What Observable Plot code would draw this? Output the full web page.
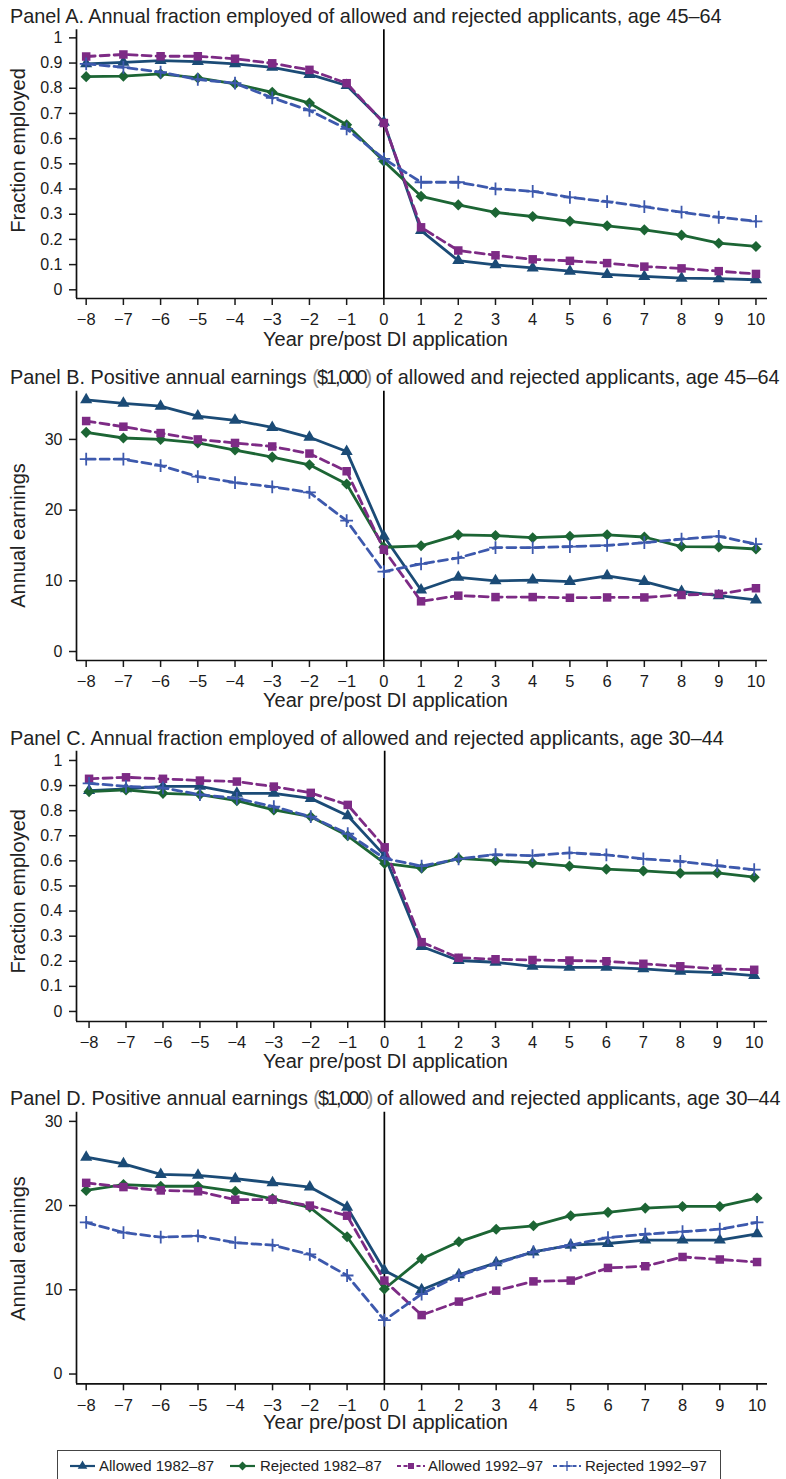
<!DOCTYPE html>
<html><head><meta charset="utf-8">
<script src="https://cdn.jsdelivr.net/npm/d3@7"></script>
<script src="https://cdn.jsdelivr.net/npm/@observablehq/plot@0.6"></script>
<style>
body{margin:0;background:#fff;font-family:"Liberation Sans",Arial,sans-serif;}
#root{position:relative;width:786px;height:1479px;overflow:hidden;background:#fff;}
#root svg{position:absolute;left:0;}
.ptitle{position:absolute;left:10px;font-size:19.85px;line-height:20px;color:#222;white-space:nowrap;}
.paren{color:#8a8a8a;}
.money{letter-spacing:-2px;}
</style></head><body><div id="root"></div><script>
// ---------- data ----------
const years = [-8,-7,-6,-5,-4,-3,-2,-1,0,1,2,3,4,5,6,7,8,9,10];
const seriesNames = ["Allowed 1982–87","Rejected 1982–87","Allowed 1992–97","Rejected 1992–97"];

const A_allowed82  = [0.897,0.903,0.910,0.906,0.897,0.883,0.855,0.811,0.665,0.235,0.116,0.099,0.087,0.074,0.061,0.053,0.046,0.044,0.040];
const A_rejected82 = [0.846,0.848,0.857,0.841,0.817,0.784,0.741,0.655,0.510,0.371,0.337,0.307,0.291,0.272,0.254,0.238,0.217,0.185,0.172];
const A_allowed92  = [0.926,0.934,0.927,0.927,0.917,0.899,0.873,0.820,0.662,0.248,0.156,0.137,0.121,0.115,0.106,0.092,0.085,0.074,0.063];
const A_rejected92 = [0.897,0.883,0.864,0.835,0.820,0.762,0.712,0.639,0.520,0.427,0.427,0.401,0.391,0.367,0.350,0.330,0.308,0.288,0.272];

const B_allowed82  = [35.6,35.1,34.7,33.3,32.7,31.7,30.3,28.3,16.3,8.7,10.5,10.0,10.1,9.9,10.7,9.9,8.5,7.9,7.3];
const B_rejected82 = [31.0,30.2,30.0,29.5,28.5,27.5,26.4,23.7,14.75,14.95,16.5,16.4,16.1,16.3,16.5,16.2,14.85,14.8,14.5];
const B_allowed92  = [32.6,31.8,30.9,30.0,29.5,29.0,28.0,25.5,14.4,7.1,7.9,7.7,7.7,7.6,7.65,7.65,8.0,8.15,8.95];
const B_rejected92 = [27.2,27.2,26.3,24.75,23.9,23.3,22.5,18.5,11.3,12.4,13.25,14.7,14.7,14.85,15.0,15.4,15.9,16.3,15.2];

const C_allowed82  = [0.880,0.887,0.897,0.897,0.869,0.869,0.849,0.780,0.621,0.259,0.203,0.196,0.180,0.176,0.176,0.170,0.160,0.155,0.143];
const C_rejected82 = [0.876,0.883,0.869,0.864,0.840,0.803,0.776,0.700,0.590,0.571,0.610,0.601,0.592,0.579,0.567,0.560,0.551,0.552,0.535];
const C_allowed92  = [0.927,0.933,0.927,0.920,0.916,0.896,0.871,0.823,0.654,0.276,0.214,0.208,0.205,0.203,0.200,0.190,0.180,0.170,0.166];
const C_rejected92 = [0.909,0.897,0.891,0.864,0.849,0.816,0.776,0.708,0.610,0.579,0.608,0.625,0.621,0.632,0.624,0.608,0.598,0.581,0.565];

const D_allowed82  = [25.75,24.96,23.7,23.6,23.2,22.7,22.2,19.8,12.3,10.0,11.8,13.2,14.5,15.3,15.5,15.9,15.9,15.9,16.65];
const D_rejected82 = [21.8,22.5,22.3,22.3,21.7,20.8,19.8,16.3,10.1,13.7,15.7,17.2,17.6,18.8,19.2,19.7,19.9,19.9,20.9];
const D_allowed92  = [22.7,22.2,21.8,21.7,20.7,20.7,20.0,18.8,11.1,7.0,8.6,9.9,11.0,11.1,12.6,12.8,13.9,13.6,13.3];
const D_rejected92 = [18.0,16.8,16.25,16.4,15.6,15.3,14.2,11.7,6.4,9.5,11.7,13.1,14.5,15.3,16.2,16.6,16.9,17.2,18.0];

const fracTicks = [0,0.1,0.2,0.3,0.4,0.5,0.6,0.7,0.8,0.9,1];
const earnTicks = [0,10,20,30];
const xTitle = "Year pre/post DI application";

// ---------- styles ----------
const FONT = "'Liberation Sans', Arial, Helvetica, sans-serif";
const colors = ["#1b4b76","#1c6534","#7d2b85","#3d59ad"];
const dashes = [null,null,"9,5","9,5"];
const symbols = ["triangle","diamond2","square","plus"];
const radii = [4.5,5,4.8,4.2];

const root = document.getElementById("root");

function fmtX(d){ return d < 0 ? "\u2212" + (-d) : String(d); }
function fmtFrac(d){ return String(+d.toFixed(1)); }

function panel(cfg){
  const marks = [
    Plot.axisX({ticks: years, tickFormat: fmtX, tickSize: 7, tickPadding: 8, strokeWidth: 1.5, fontSize: 16.5, label: null}),
    Plot.axisY({ticks: cfg.yt, tickFormat: cfg.fmtY, tickSize: 7, tickPadding: 7, strokeWidth: 1.5, fontSize: 16, label: null}),
    Plot.ruleX([cfg.xd[0]], {stroke: "#111", strokeWidth: 1.7}),
    Plot.ruleY([cfg.yd[0]], {stroke: "#111", strokeWidth: 1.7}),
    Plot.ruleX([0], {stroke: "#000", strokeWidth: 1.7})
  ];
  cfg.series.forEach((vals, i) => {
    const rows = vals.map((v, j) => ({year: years[j], value: v}));
    marks.push(Plot.line(rows, {x: "year", y: "value", stroke: colors[i], strokeWidth: 2.8, strokeDasharray: dashes[i]}));
    marks.push(Plot.dot(rows, {x: "year", y: "value", symbol: symbols[i], r: radii[i],
      fill: i === 3 ? "none" : colors[i], stroke: i === 3 ? colors[i] : "none", strokeWidth: 1.8}));
  });
  marks.push(Plot.text([cfg.yTitle], {text: d => d, frameAnchor: "left", textAnchor: "middle", lineAnchor: "middle",
    rotate: -90, dx: -58, dy: cfg.ydy, fontSize: 20, fill: "#222"}));
  marks.push(Plot.text([xTitle], {text: d => d, frameAnchor: "bottom", textAnchor: "middle", lineAnchor: "middle",
    dx: -36.5, dy: cfg.xdy, fontSize: 20, fill: "#222"}));
  const svg = Plot.plot({
    width: 786, height: 360,
    marginLeft: 76, marginRight: 19, marginTop: cfg.mt, marginBottom: cfg.mb,
    style: {fontFamily: FONT, fontSize: "16px", color: "#1a1a1a", background: "transparent", overflow: "visible"},
    x: {domain: cfg.xd},
    y: {domain: cfg.yd},
    marks
  });
  svg.style.top = cfg.top + "px";
  root.appendChild(svg);
  const t = document.createElement("div");
  t.className = "ptitle";
  t.style.top = (cfg.top + cfg.titleTop) + "px";
  t.innerHTML = cfg.title;
  root.appendChild(t);
}

const moneyHTML = "<span class='money'><span class='paren'>(</span>$1,000<span class='paren'>)</span></span>";

panel({top: 0, mt: 29.3, mb: 62, xd: [-8.26, 10.31], yd: [-0.0345, 1.032], yt: fracTicks, fmtY: fmtFrac,
  series: [A_allowed82, A_rejected82, A_allowed92, A_rejected92],
  yTitle: "Fraction employed", ydy: -13.7, xdy: 41.5, titleTop: 6,
  title: "Panel A. Annual fraction employed of allowed and rejected applicants, age 45–64"});
panel({top: 360, mt: 30.7, mb: 60, xd: [-8.26, 10.31], yd: [-1.27, 36.82], yt: earnTicks, fmtY: d => String(d),
  series: [B_allowed82, B_rejected82, B_allowed92, B_rejected92],
  yTitle: "Annual earnings", ydy: 9.6, xdy: 40, titleTop: 7,
  title: "Panel B. Positive annual earnings " + moneyHTML + " of allowed and rejected applicants, age 45–64"});
panel({top: 720, mt: 30.7, mb: 59, xd: [-8.34, 10.36], yd: [-0.040, 1.037], yt: fracTicks, fmtY: fmtFrac,
  series: [C_allowed82, C_rejected82, C_allowed92, C_rejected92],
  yTitle: "Fraction employed", ydy: 5, xdy: 40.5, titleTop: 8,
  title: "Panel C. Annual fraction employed of allowed and rejected applicants, age 30–44"});
panel({top: 1080, mt: 31.7, mb: 56.7, xd: [-8.26, 10.28], yd: [-1.16, 31.09], yt: earnTicks, fmtY: d => String(d),
  series: [D_allowed82, D_rejected82, D_allowed92, D_rejected92],
  yTitle: "Annual earnings", ydy: 0.5, xdy: 38.5, titleTop: 8,
  title: "Panel D. Positive annual earnings " + moneyHTML + " of allowed and rejected applicants, age 30–44"});

// ---------- legend ----------
const lg = d3.select(root).append("svg")
  .attr("width", 786).attr("height", 29)
  .style("top", "1450px")
  .style("font-family", FONT);
lg.append("rect").attr("x", 57.5).attr("y", 0.5).attr("width", 663).attr("height", 40)
  .attr("fill", "none").attr("stroke", "#444").attr("stroke-width", 1);
const legItems = [
  {x0: 70, x1: 95, tx: 99},
  {x0: 230, x1: 255, tx: 260},
  {x0: 397, x1: 425, tx: 428},
  {x0: 553, x1: 581, tx: 585}
];
const legSym = [d3.symbolTriangle, d3.symbolDiamond2, d3.symbolSquare, d3.symbolPlus];
const legSize = [40, 50, 36, 36];
legItems.forEach((it, i) => {
  const cy = 16;
  lg.append("line").attr("x1", it.x0).attr("x2", it.x1).attr("y1", cy).attr("y2", cy)
    .attr("stroke", colors[i]).attr("stroke-width", 2.2)
    .attr("stroke-dasharray", dashes[i] ? "4,2.5" : null);
  lg.append("path").attr("d", d3.symbol(legSym[i], legSize[i])())
    .attr("transform", `translate(${(it.x0 + it.x1) / 2},${cy})`)
    .attr("fill", i === 3 ? "none" : colors[i])
    .attr("stroke", i === 3 ? colors[i] : "none").attr("stroke-width", 1.3);
  lg.append("text").attr("x", it.tx).attr("y", cy).attr("dy", "0.36em")
    .attr("font-size", 15).attr("fill", "#222").text(seriesNames[i]);
});
</script></body></html>
